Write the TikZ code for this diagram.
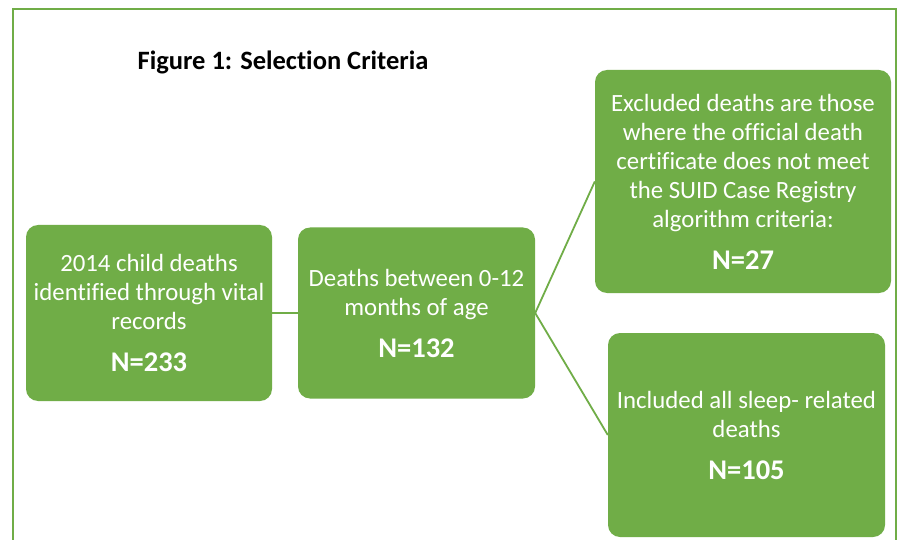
\documentclass[tikz,border=0pt]{standalone}
\usepackage{fontspec}
\setmainfont{Carlito}[Ligatures={NoCommon}]
\definecolor{boxgreen}{HTML}{70AD47}
\tikzset{
  stepbox/.style={draw=none, fill=boxgreen, rounded corners=12pt, text=white, align=center, inner sep=0pt,
    font=\fontsize{24.8}{29}\selectfont},
  conn/.style={draw=boxgreen, line width=1.8pt},
}
\newcommand{\bign}[1]{\\[13pt]{\fontsize{28.5}{34}\selectfont\bfseries #1}}
\begin{document}
\begin{tikzpicture}[x=1pt,y=-1pt]
\useasboundingbox (0,0) rectangle (902,540);
\fill[white] (0,0) rectangle (902,540);
\draw[boxgreen, line width=2pt] (13,560) -- (13,9) -- (896,9) -- (896,560);
\node[font=\fontsize{26.5}{30}\selectfont\bfseries, anchor=base] (title) at (283,70) {Figure 1: Selection Criteria};
\node[stepbox, minimum width=246pt, minimum height=176pt] (b1) at (149,313)
  {2014 child deaths\\identified through vital\\records\bign{N=233}};
\node[stepbox, minimum width=237pt, minimum height=171pt] (b2) at (416.5,313)
  {Deaths between 0-12\\months of age\bign{N=132}};
\node[stepbox, minimum width=296pt, minimum height=223pt] (b3) at (743,181.5)
  {Excluded deaths are those\\where the official death\\certificate does not meet\\the SUID Case Registry\\algorithm criteria:\bign{N=27}};
\node[stepbox, minimum width=277pt, minimum height=204pt] (b4) at (746.5,435)
  {Included all sleep- related\\deaths\bign{N=105}};
\draw[conn] (b1.east) -- (b2.west);
\draw[conn] (b2.east) -- (b3.west);
\draw[conn] (b2.east) -- (b4.west);
\end{tikzpicture}
\end{document}
